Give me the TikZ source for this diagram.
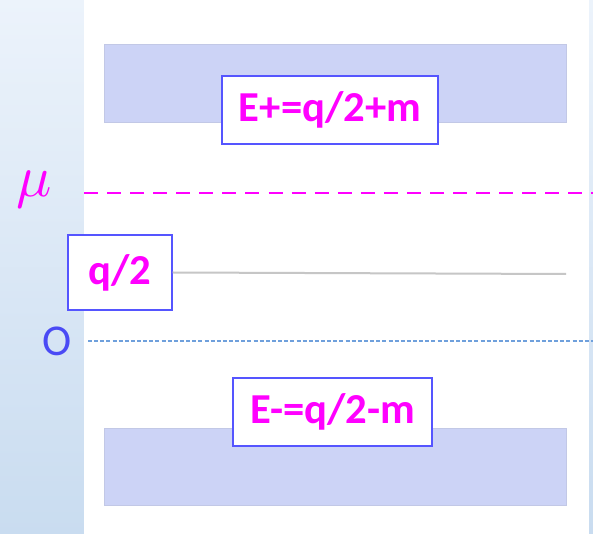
\documentclass[tikz,border=0pt]{standalone}
\usepackage{fontspec}
\setmainfont{Carlito}
\usetikzlibrary{positioning,calc}

\definecolor{sidetop}{HTML}{ECF3FB}
\definecolor{sidebot}{HTML}{C9DCF0}
\definecolor{bandfill}{HTML}{CCD3F6}
\definecolor{banddraw}{HTML}{C2C8E6}
\definecolor{boxblue}{HTML}{5555FF}
\definecolor{zeroblue}{HTML}{4A4AF5}
\definecolor{zeroline}{HTML}{6FA0DC}
\definecolor{pink}{HTML}{FF00FF}

\begin{document}
\begin{tikzpicture}[
    x=0.75pt, y=-0.75pt,
    band/.style={draw=banddraw, fill=bandfill, line width=0.6pt},
    label box/.style={
      draw=boxblue,
      fill=white,
      line width=1.1pt,
      inner sep=0pt,
      text=pink,
      font=\fontsize{32}{36}\selectfont\bfseries,
    },
  ]
    \useasboundingbox (0,0) rectangle (593,534);

    % backdrop
    \shade[top color=sidetop, bottom color=sidebot] (0,0) rectangle (84,534);
    \shade[top color=sidetop, bottom color=sidebot] (589,0) rectangle (593,534);
    \fill[white] (84,0) rectangle (589,534);

    % energy bands
    \draw[band] (104,44) rectangle (566,122);
    \draw[band] (104,428) rectangle (566,505);

    % levels
    \coordinate (MuStart) at (84,193);
    \coordinate (MuEnd) at (593,193);
    \coordinate (ZeroStart) at (88,341);
    \coordinate (ZeroEnd) at (593,341);
    \coordinate (HalfEnd) at (566,274);

    \draw[pink, line width=2.2pt, dash pattern=on 10.5pt off 6.8pt] (MuStart) -- (MuEnd);
    \draw[zeroline, line width=0.9pt, dash pattern=on 3pt off 1.6pt] (ZeroStart) -- (ZeroEnd);

    \node[text=pink, scale=4.4, inner sep=0pt] (Mu) at (34,190) {$\mu$};
    \node[text=zeroblue, font=\fontsize{33}{36}\selectfont, inner sep=0pt] (Zero) at (57,341) {O};

    % level labels
    \node[label box, minimum width=162pt, minimum height=51pt] (Eplus) at (330,110) {E+=q/2+m};
    \node[label box, minimum width=78pt, minimum height=56pt] (Half) at (120,272.5) {q/2};
    \node[label box, minimum width=149pt, minimum height=51pt] (Eminus) at (332.5,412) {E-=q/2-m};

    \draw[gray!45, line width=1.5pt] (Half.east) -- (HalfEnd);
  \end{tikzpicture}
\end{document}
